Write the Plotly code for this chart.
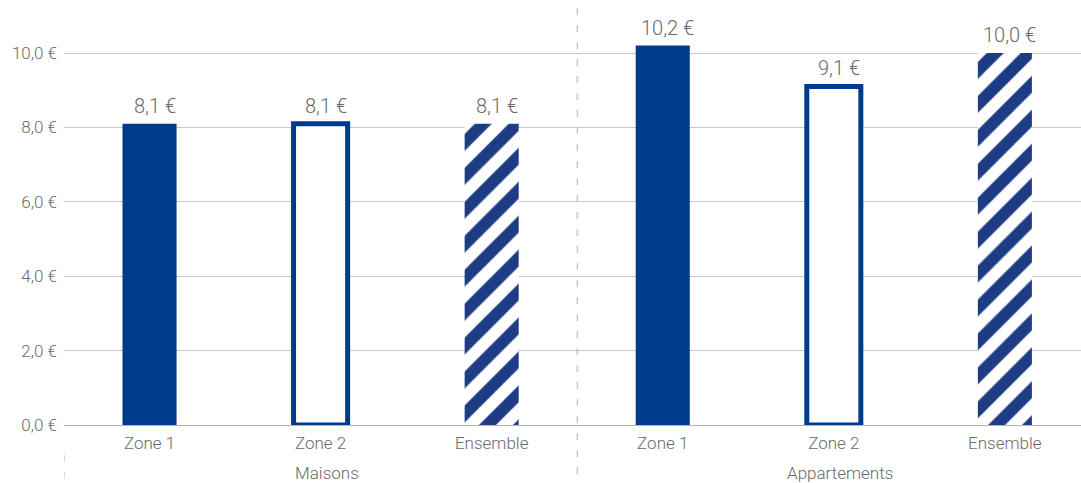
import plotly.graph_objects as go

groups = ["Maisons", "Appartements"]
zones = ["Zone 1", "Zone 2", "Ensemble"]
maisons = [8.1, 8.1, 8.1]
appartements = [10.2, 9.1, 10.0]
y_ticks = [0, 2, 4, 6, 8, 10]
y_ticktext = ["0,0 €", "2,0 €", "4,0 €", "6,0 €", "8,0 €", "10,0 €"]

values = [maisons, appartements]
BLUE = "#003A8C"
HATCH = "#1d3c84"
GREY = "#6a6a6a"
FONT = "Roboto"
BW = 0.316

def fmt(v):
    return f"{v:.1f}".replace(".", ",") + " €"

fig = go.Figure()
for zi, z in enumerate(zones):
    xs = [gi * 3 + zi for gi in range(len(groups))]
    ys = [values[gi][zi] for gi in range(len(groups))]
    if zi == 0:
        marker = dict(color=BLUE, line=dict(width=0))
    elif zi == 1:
        marker = dict(color="white", line=dict(width=5, color=BLUE))
    else:
        marker = dict(color="white", line=dict(width=0),
                      pattern=dict(shape="/", fgcolor=HATCH, bgcolor="white",
                                   fgopacity=1, size=24, solidity=0.5))
    fig.add_trace(go.Bar(x=xs, y=ys, width=BW, marker=marker, name=z,
                         showlegend=False, hoverinfo="skip", cliponaxis=False))
    for x, y in zip(xs, ys):
        fig.add_annotation(x=x, y=y, text=fmt(y), showarrow=False,
                           yanchor="bottom", yshift=4, xshift=5,
                           font=dict(family=FONT, size=20, color=GREY, weight=300))

# group labels
for gi, g in enumerate(groups):
    fig.add_annotation(x=gi * 3 + 1, y=-0.113, yref="paper", text=g, showarrow=False,
                       xshift=6, yanchor="middle",
                       font=dict(family=FONT, size=17, color=GREY, weight=300))

# dashed dividers
fig.add_shape(type="line", xref="x", yref="paper", x0=2.5, x1=2.5, y0=0.981, y1=-0.136,
              line=dict(color="#b4b4b4", width=1, dash="7px,10px"))
fig.add_shape(type="line", xref="x", yref="paper", x0=-0.5, x1=-0.5, y0=-0.07, y1=-0.136,
              line=dict(color="#b4b4b4", width=1, dash="7px,10px"))

tickvals = list(range(len(groups) * len(zones)))
ticktext = zones * len(groups)

fig.update_layout(
    width=1081, height=483,
    margin=dict(l=64, r=0, t=0, b=58),
    paper_bgcolor="white", plot_bgcolor="white",
    font=dict(family=FONT, color=GREY),
    xaxis=dict(range=[-0.5, 5.445], tickvals=tickvals, ticktext=ticktext,
               showgrid=False, zeroline=False, showline=False, ticks="",
               ticklabelstandoff=6,
               tickfont=dict(family=FONT, size=17, color=GREY, weight=300)),
    yaxis=dict(range=[0, 11.425], tickvals=y_ticks, ticktext=y_ticktext,
               showgrid=True, gridcolor="#c8c8c8", gridwidth=1,
               zeroline=True, zerolinecolor="#b4b4b4", zerolinewidth=1,
               showline=False, ticks="", ticklabelstandoff=6,
               tickfont=dict(family=FONT, size=17, color=GREY, weight=300)),
)

fig.write_html("out.html")
